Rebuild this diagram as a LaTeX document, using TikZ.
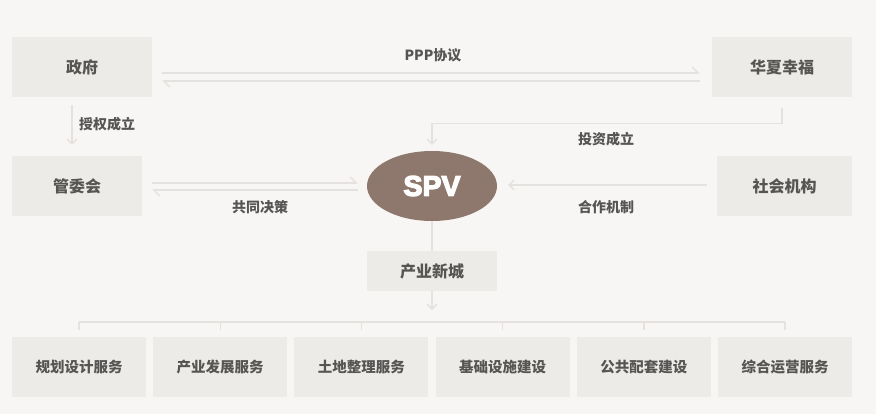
\documentclass[tikz,border=0pt]{standalone}
\usepackage{fontspec}
\setmainfont{Noto Sans CJK SC}
\newfontfamily\spvfont{Liberation Sans}
\usetikzlibrary{arrows.meta,calc,shapes.geometric}
\definecolor{bgc}{HTML}{F8F6F4}
\definecolor{boxc}{HTML}{EDEBE8}
\definecolor{txt}{HTML}{575553}
\definecolor{linec}{HTML}{E4E1DE}
\definecolor{spvc}{HTML}{8E776C}
\newcommand{\heavytext}[1]{\special{pdf:literal q 2 Tr 1.3 w 1 1 1 RG}#1\special{pdf:literal Q}}
\begin{document}
\begin{tikzpicture}[x=1pt,y=-1pt,
  box/.style={fill=boxc, draw=none, inner sep=0pt, text=txt, font=\bfseries\fontsize{16}{16}\selectfont},
  sbox/.style={box, minimum width=134pt, minimum height=60pt, font=\bfseries\fontsize{14.5}{14.5}\selectfont},
  conn/.style={draw=linec, line width=1.4pt},
  tip/.style={-{Straight Barb[length=5pt,width=10pt]}},
  harp/.style={-{Straight Barb[harpoon,length=6pt,width=12pt]}},
  lbl/.style={text=txt, font=\bfseries\fontsize{14}{14}\selectfont, inner sep=0pt}]
\fill[bgc] (0,0) rectangle (876,414);
\useasboundingbox (0,0) rectangle (876,414);
% nodes
\node[box, minimum width=140pt, minimum height=60pt] (gov) at (82,67) {政府};
\node[box, minimum width=140pt, minimum height=60pt] (hx) at (782,67) {华夏幸福};
\node[box, minimum width=130pt, minimum height=60pt] (gwh) at (77,186) {管委会};
\node[box, minimum width=135pt, minimum height=60pt] (sh) at (784.5,186) {社会机构};
\node[ellipse, fill=spvc, minimum width=130pt, minimum height=70pt, inner sep=0pt, text=white, font=\spvfont\bfseries\fontsize{28.5}{28.5}\selectfont] (spv) at (432,186) {\heavytext{SPV}};
\node[box, minimum width=130pt, minimum height=40pt] (cy) at (432,271) {产业新城};
\node[sbox] (b1) at (79,367) {规划设计服务};
\node[sbox] (b2) at (220.2,367) {产业发展服务};
\node[sbox] (b3) at (361.4,367) {土地整理服务};
\node[sbox] (b4) at (502.6,367) {基础设施建设};
\node[sbox] (b5) at (643.8,367) {公共配套建设};
\node[sbox] (b6) at (785,367) {综合运营服务};
% labels
\node[lbl] (lppp) at (433,55) {PPP协议};
\node[lbl] (lsq) at (107,124) {授权成立};
\node[lbl] (ltz) at (606,139) {投资成立};
\node[lbl] (lgt) at (260,207) {共同决策};
\node[lbl] (lhz) at (606,207) {合作机制};
% connectors
\draw[conn,harp] ($(gov.east)+(10,6)$) -- ($(hx.west)+(-12,6)$);
\draw[conn,harp] ($(hx.west)+(-12,14)$) -- ($(gov.east)+(10,14)$);
\draw[conn,tip] ($(gov.south)+(-10,8)$) -- ($(gwh.north)+(-5,-11)$);
\draw[conn,tip] ($(hx.south)+(0,11)$) |- ($(spv.north)+(0,-27)$) -- ($(spv.north)+(0,-6)$);
\draw[conn,harp] ($(gwh.east)+(10,-3)$) -- ($(spv.west)+(-9,-3)$);
\draw[conn,harp] ($(spv.west)+(-9,4)$) -- ($(gwh.east)+(10,4)$);
\draw[conn,tip] ($(sh.west)+(-10,-1)$) -- ($(spv.east)+(11,-1)$);
\draw[conn] (spv.south) -- (cy.north);
\draw[conn,tip] (cy.south) -- ($(cy.south)+(0,19)$);
\coordinate (bus) at (0,322);
\draw[conn] (b1.north |- bus) -- (b6.north |- bus);
\foreach \b in {b1,b2,b3,b4,b5,b6}{
  \draw[conn] (\b.north |- bus) -- ($(\b.north)+(0,-7)$);
}
\end{tikzpicture}
\end{document}
